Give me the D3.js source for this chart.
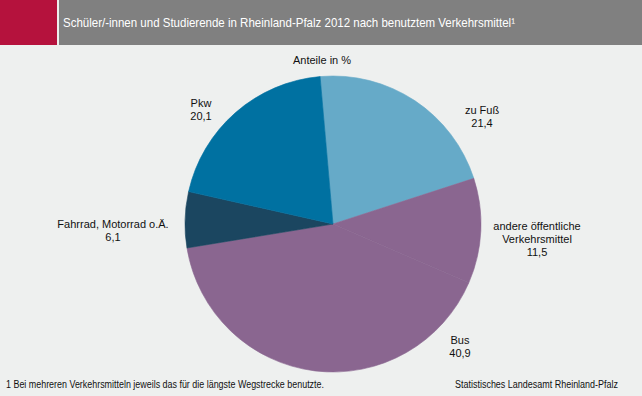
<!DOCTYPE html>
<html>
<head>
<meta charset="utf-8">
<script src="https://cdn.jsdelivr.net/npm/d3@7/dist/d3.min.js"></script>
<style>
  html, body { margin: 0; padding: 0; background: #eef0ef; }
  svg { display: block; }
  text { font-family: "Liberation Sans", Arial, sans-serif; }
</style>
</head>
<body>
<div id="chart"></div>
<script>
// Anteile in %, Reihenfolge im Uhrzeigersinn ab oben
const categories = ['zu Fuß', 'andere öffentliche Verkehrsmittel', 'Bus', 'Fahrrad, Motorrad o.Ä.', 'Pkw'];
const values = [21.4, 11.5, 40.9, 6.1, 20.1];
const labelLines = [
    ['zu Fuß'],
    ['andere öffentliche', 'Verkehrsmittel'],
    ['Bus'],
    ['Fahrrad, Motorrad o.Ä.'],
    ['Pkw']
];
const valueLabels = ['21,4', '11,5', '40,9', '6,1', '20,1'];

const W = 642, H = 396;
const cx = 333, cy = 224, R = 148;
const colors = ['#66aac8', '#8a6690', '#8a6690', '#1b4660', '#0071a1'];

// label block centres, relative to pie centre
const labelPos = [
    [149, -108], [204, 15], [127, 122], [-220, 6], [-132, -115]
];

const svg = d3.select('#chart').append('svg')
    .attr('width', W).attr('height', H);

svg.append('rect').attr('width', W).attr('height', H).attr('fill', '#eef0ef');

// header
svg.append('rect').attr('x', 0).attr('y', 0).attr('width', 57).attr('height', 45).attr('fill', '#b5123d');
svg.append('rect').attr('x', 59).attr('y', 0).attr('width', W - 59).attr('height', 45).attr('fill', '#808080');
svg.append('text')
    .attr('x', 63).attr('y', 27)
    .attr('fill', '#fff').attr('font-size', 13)
    .attr('textLength', 452).attr('lengthAdjust', 'spacingAndGlyphs')
    .text('Schüler/-innen und Studierende in Rheinland-Pfalz 2012 nach benutztem Verkehrsmittel¹');

svg.append('text')
    .attr('x', 322).attr('y', 64)
    .attr('text-anchor', 'middle').attr('font-size', 11).attr('fill', '#111')
    .text('Anteile in %');

const offset = -5 * Math.PI / 180;
const pie = d3.pie().sort(null).value(d => d)
    .startAngle(offset).endAngle(2 * Math.PI + offset);
const arc = d3.arc().innerRadius(0).outerRadius(R);

const g = svg.append('g').attr('transform', `translate(${cx},${cy})`);
g.selectAll('path')
    .data(pie(values))
    .join('path')
    .attr('d', arc)
    .attr('fill', (d, i) => colors[i])
    .attr('stroke', (d, i) => colors[i])
    .attr('stroke-width', 0.6);

// labels
const lh = 13;
categories.forEach((c, i) => {
    const lines = labelLines[i].concat([valueLabels[i]]);
    const [lx, ly] = labelPos[i];
    const y0 = ly - (lines.length - 1) * lh / 2;
    const t = g.append('text')
        .attr('text-anchor', 'middle')
        .attr('font-size', 11)
        .attr('fill', '#111');
    lines.forEach((s, k) => {
        t.append('tspan')
            .attr('x', lx)
            .attr('y', y0 + k * lh + 4)
            .text(s);
    });
});

// footer
svg.append('text')
    .attr('x', 6).attr('y', 388)
    .attr('font-size', 10).attr('fill', '#111')
    .attr('textLength', 318).attr('lengthAdjust', 'spacingAndGlyphs')
    .text('1 Bei mehreren Verkehrsmitteln jeweils das für die längste Wegstrecke benutzte.');
svg.append('text')
    .attr('x', 455).attr('y', 388)
    .attr('font-size', 10).attr('fill', '#111')
    .attr('textLength', 163).attr('lengthAdjust', 'spacingAndGlyphs')
    .text('Statistisches Landesamt Rheinland-Pfalz');
</script>
</body>
</html>
